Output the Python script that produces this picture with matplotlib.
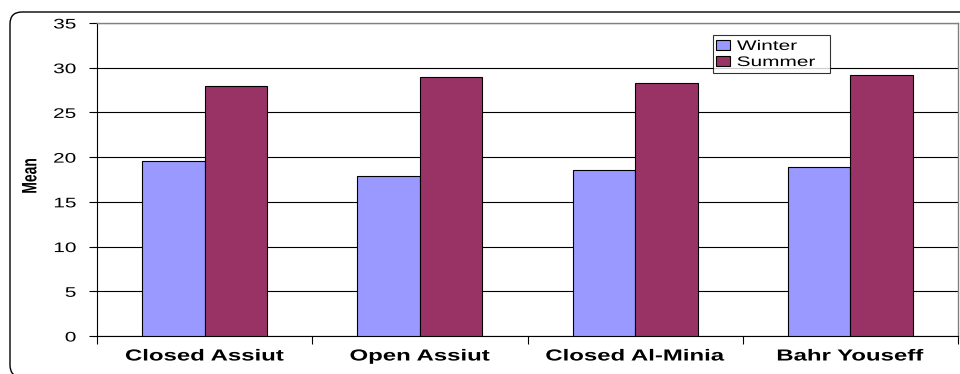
import numpy as np
import matplotlib.pyplot as plt
from matplotlib.patches import FancyBboxPatch
from matplotlib.patheffects import AbstractPathEffect
from matplotlib.transforms import Affine2D

# data
sites = ['Closed Assiut', 'Open Assiut', 'Closed Al-Minia', 'Bahr Youseff']
winter = [19.6, 17.9, 18.6, 18.9]
summer = [28.0, 29.0, 28.3, 29.2]

plt.rcParams['font.family'] = ['Liberation Sans', 'DejaVu Sans']


# the original picture is stretched sideways, so stretch the text the same way
class Stretch(AbstractPathEffect):
    def __init__(self, sx=1.5, anchor='center'):
        super().__init__()
        self.sx = sx
        self.anchor = anchor

    def draw_path(self, renderer, gc, tpath, affine, rgbFace=None):
        ext = tpath.get_extents(affine)
        if self.anchor == 'left':
            cx = ext.x0
        elif self.anchor == 'right':
            cx = ext.x1
        else:
            cx = 0.5 * (ext.x0 + ext.x1)
        t = affine + Affine2D().translate(-cx, 0).scale(self.sx, 1).translate(cx, 0)
        renderer.draw_path(gc, tpath, t, rgbFace)


fig = plt.figure(figsize=(9.6, 3.74), dpi=100)

# rounded outer frame, running off the right and bottom edges
frame = FancyBboxPatch((0.10, -0.03), 10.0, 3.65,
                       boxstyle='round,pad=0,rounding_size=0.12',
                       transform=fig.dpi_scale_trans, fill=False,
                       edgecolor='black', linewidth=1.0)
fig.patches.append(frame)

ax = fig.add_axes([0.101, 0.1016, 0.897, 0.837])

x = np.arange(len(sites))
w = 0.29
ax.bar(x - w / 2, winter, w, color='#9999FF', edgecolor='black', linewidth=0.8,
       label='Winter', zorder=3)
ax.bar(x + w / 2, summer, w, color='#993366', edgecolor='black', linewidth=0.8,
       label='Summer', zorder=3)

ax.set_xlim(-0.5, len(sites) - 0.5)
ax.set_ylim(0, 35)
ax.set_yticks(np.arange(0, 36, 5))
ax.yaxis.grid(True, color='black', linewidth=0.8, zorder=0)
ax.set_axisbelow(True)

# category labels centred, tick marks between categories
ax.set_xticks(x)
ax.set_xticklabels(sites, fontsize=11.5, fontweight='bold')
ax.tick_params(axis='x', length=0, pad=9)
ax.set_xticks(np.arange(-0.5, len(sites)), minor=True)
ax.tick_params(axis='x', which='minor', length=6, width=0.8)
ax.tick_params(axis='y', length=6, width=0.8, labelsize=10, pad=9)

for lab in ax.get_xticklabels():
    lab.set_path_effects([Stretch(1.5, 'center')])
for lab in ax.get_yticklabels():
    lab.set_path_effects([Stretch(1.5, 'right')])

for s in ['top', 'right']:
    ax.spines[s].set_color('#808080')
    ax.spines[s].set_linewidth(1.0)
ax.spines['left'].set_linewidth(0.8)
ax.spines['bottom'].set_linewidth(0.8)

fig.text(30 / 960, 1 - 176 / 374, 'Mean', rotation=90, ha='center', va='center',
         fontsize=10, fontweight='bold',
         family=['Liberation Sans Narrow', 'Liberation Sans'],
         path_effects=[Stretch(1.5, 'center')])

leg = ax.legend(loc='upper left', bbox_to_anchor=(0.715, 0.84, 0.136, 0.12),
                mode='expand', fontsize=10,
                frameon=True, fancybox=False, edgecolor='black',
                borderpad=0.25, handlelength=1.0, handleheight=0.7,
                handletextpad=0.5, labelspacing=0.15, borderaxespad=0)
leg.get_frame().set_linewidth(0.8)
for t in leg.get_texts():
    t.set_path_effects([Stretch(1.5, 'left')])

fig.savefig('out.png', dpi=100)
